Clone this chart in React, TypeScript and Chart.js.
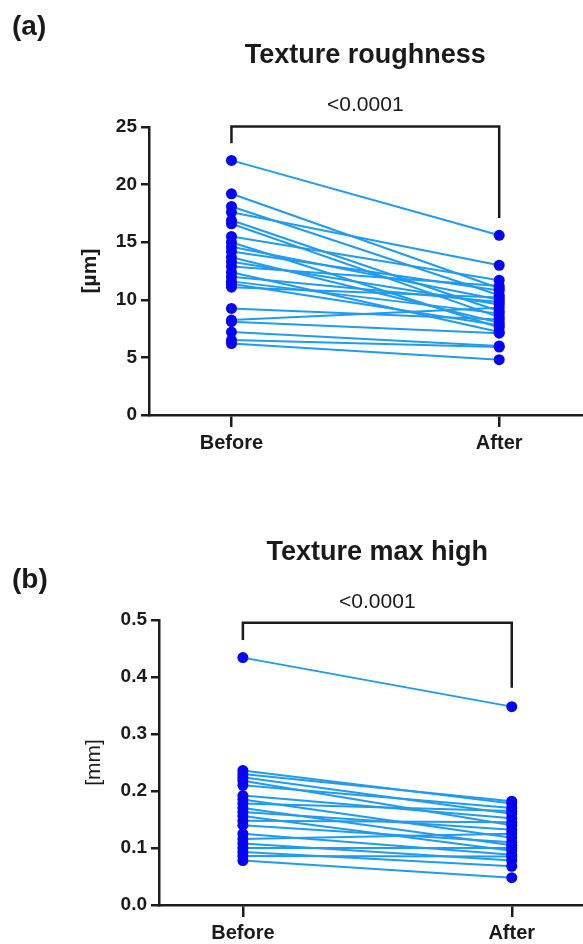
import React, { useEffect, useRef } from 'react';
import { Chart, registerables } from 'chart.js';

Chart.register(...registerables);

// ---------- data ----------
const categories = ['Before', 'After'];

const roughnessBefore = [22.1, 19.2, 18.1, 17.6, 16.9, 16.6, 15.5, 15.0, 14.6, 14.2, 13.7, 13.3, 12.9, 12.4, 12.0, 11.6, 11.1, 11.4, 9.25, 8.24, 8.1, 7.2, 6.5, 6.2];
const roughnessAfter = [15.6, 11.0, 10.4, 13.0, 9.0, 8.5, 11.7, 7.6, 10.0, 10.8, 8.0, 9.6, 11.2, 7.2, 9.8, 8.8, 10.2, 7.8, 8.3, 9.3, 7.1, 6.0, 5.9, 4.8];
const roughnessTicks = [0, 5, 10, 15, 20, 25];

const maxHighBefore = [0.434, 0.236, 0.23, 0.224, 0.218, 0.21, 0.192, 0.185, 0.178, 0.17, 0.163, 0.156, 0.148, 0.14, 0.125, 0.116, 0.108, 0.1, 0.093, 0.086, 0.078];
const maxHighAfter = [0.348, 0.178, 0.182, 0.16, 0.14, 0.17, 0.152, 0.118, 0.165, 0.105, 0.132, 0.095, 0.145, 0.11, 0.088, 0.125, 0.078, 0.1, 0.068, 0.085, 0.048];
const maxHighTicks = [0, 0.1, 0.2, 0.3, 0.4, 0.5];

const pValueA = '<0.0001';
const pValueB = '<0.0001';

// ---------- styles ----------
const FONT = '"Liberation Sans", Arial, sans-serif';
const LINE_COLOR = '#1f9bf0';
const POINT_COLOR = '#0505f2';
const AXIS_COLOR = '#1c1c1c';
const TEXT_COLOR = '#1a1a1a';

const overlayPlugin = {
  id: 'overlay',
  afterDraw(chart: any, _args: any, opts: any) {
    const { ctx } = chart;
    const xs = chart.scales.x;
    const ys = chart.scales.y;
    const x0 = xs.getPixelForValue(0);
    const x1 = xs.getPixelForValue(1);
    const cx = (x0 + x1) / 2;
    ctx.save();
    ctx.fillStyle = TEXT_COLOR;
    ctx.textBaseline = 'middle';
    ctx.textAlign = 'left';
    ctx.font = `bold 28px ${FONT}`;
    ctx.fillText(opts.panel, 12, opts.panelY);
    ctx.textAlign = 'center';
    ctx.font = `bold 27px ${FONT}`;
    ctx.fillText(opts.title, cx, opts.titleY);
    ctx.font = `21px ${FONT}`;
    ctx.fillText(opts.p, cx, opts.pY);
    ctx.strokeStyle = AXIS_COLOR;
    ctx.lineWidth = 2.5;
    const by = ys.getPixelForValue(opts.bracket);
    ctx.beginPath();
    ctx.moveTo(x0, ys.getPixelForValue(opts.leftLeg));
    ctx.lineTo(x0, by);
    ctx.lineTo(x1, by);
    ctx.lineTo(x1, ys.getPixelForValue(opts.rightLeg));
    ctx.stroke();
    ctx.restore();
  },
};

type PanelSpec = {
  before: number[];
  after: number[];
  ticks: number[];
  decimals: number;
  yTitle: string;
  yTitleWeight: string;
  yTitlePad: number;
  yWidth: number;
  xMin: number;
  xMax: number;
  padTop: number;
  xHeight: number;
  width: number;
  height: number;
  overlay: any;
};

function Panel({ spec, top }: { spec: PanelSpec; top: number }) {
  const ref = useRef<HTMLCanvasElement | null>(null);
  useEffect(() => {
    if (!ref.current) return;
    const lineSets = spec.before.map((b, i) => ({
      type: 'line',
      data: [
        { x: 0, y: b },
        { x: 1, y: spec.after[i] },
      ],
      borderColor: LINE_COLOR,
      borderWidth: 2,
      pointRadius: 0,
      showLine: true,
      order: 2,
      clip: false,
    }));
    const pointSet = {
      type: 'scatter',
      data: [
        ...spec.before.map((v) => ({ x: 0, y: v })),
        ...spec.after.map((v) => ({ x: 1, y: v })),
      ],
      backgroundColor: POINT_COLOR,
      borderColor: POINT_COLOR,
      pointRadius: 5.5,
      borderWidth: 0,
      order: 1,
      clip: false,
    };
    const yMin = spec.ticks[0];
    const yMax = spec.ticks[spec.ticks.length - 1];
    const chart = new Chart(ref.current, {
      type: 'scatter',
      data: { datasets: [...lineSets, pointSet] as any },
      options: {
        responsive: false,
        animation: false,
        devicePixelRatio: 1,
        layout: { autoPadding: false, padding: { top: spec.padTop, left: 0, right: 0, bottom: 0 } },
        plugins: {
          legend: { display: false },
          tooltip: { enabled: false },
          overlay: spec.overlay,
        } as any,
        scales: {
          x: {
            type: 'linear',
            min: spec.xMin,
            max: spec.xMax,
            afterBuildTicks: (s: any) => {
              s.ticks = categories.map((_, i) => ({ value: i }));
            },
            afterFit: (s: any) => {
              s.height = spec.xHeight;
              s.paddingLeft = 0;
              s.paddingRight = 0;
            },
            ticks: {
              autoSkip: false,
              maxRotation: 0,
              padding: 4,
              color: TEXT_COLOR,
              font: { family: FONT, size: 20, weight: 'bold' },
              callback: (v: any) => categories[v],
            },
            grid: {
              display: true,
              drawOnChartArea: false,
              drawTicks: true,
              tickLength: 12,
              color: AXIS_COLOR,
              lineWidth: 2.5,
            },
            border: { display: true, color: AXIS_COLOR, width: 2.5 },
          },
          y: {
            type: 'linear',
            min: yMin,
            max: yMax,
            afterBuildTicks: (s: any) => {
              s.ticks = spec.ticks.map((v) => ({ value: v }));
            },
            afterFit: (s: any) => {
              s.width = spec.yWidth;
              s.paddingTop = 0;
              s.paddingBottom = 0;
            },
            ticks: {
              padding: 4,
              color: TEXT_COLOR,
              font: { family: FONT, size: 19, weight: 'bold' },
              callback: (v: any) => Number(v).toFixed(spec.decimals),
            },
            grid: {
              display: true,
              drawOnChartArea: false,
              drawTicks: true,
              tickLength: 8,
              color: AXIS_COLOR,
              lineWidth: 2.5,
            },
            border: { display: true, color: AXIS_COLOR, width: 2.5 },
            title: {
              display: true,
              text: spec.yTitle,
              color: TEXT_COLOR,
              font: { family: FONT, size: 21, weight: spec.yTitleWeight },
              padding: { top: spec.yTitlePad, bottom: 0 },
            },
          },
        },
      } as any,
      plugins: [overlayPlugin as any],
    });
    return () => chart.destroy();
  }, [spec]);
  return (
    <canvas
      ref={ref}
      width={spec.width}
      height={spec.height}
      style={{ position: 'absolute', left: 0, top, width: spec.width, height: spec.height }}
    />
  );
}

const specA: PanelSpec = {
  before: roughnessBefore,
  after: roughnessAfter,
  ticks: roughnessTicks,
  decimals: 0,
  yTitle: '[µm]',
  yTitleWeight: 'bold',
  yTitlePad: 78,
  yWidth: 149,
  xMin: -0.308,
  xMax: 1.313,
  padTop: 127,
  xHeight: 45,
  width: 583,
  height: 460,
  overlay: { panel: '(a)', panelY: 27, title: 'Texture roughness', titleY: 56, p: pValueA, pY: 105, bracket: 25.05, leftLeg: 23.6, rightLeg: 17.1 },
};

const specB: PanelSpec = {
  before: maxHighBefore,
  after: maxHighAfter,
  ticks: maxHighTicks,
  decimals: 1,
  yTitle: '[mm]',
  yTitleWeight: 'normal',
  yTitlePad: 82,
  yWidth: 159,
  xMin: -0.312,
  xMax: 1.265,
  padTop: 160,
  xHeight: 39,
  width: 583,
  height: 484,
  overlay: { panel: '(b)', panelY: 120, title: 'Texture max high', titleY: 93, p: pValueB, pY: 142, bracket: 0.495, leftLeg: 0.465, rightLeg: 0.381 },
};

export default function App() {
  return (
    <div style={{ position: 'absolute', left: 0, top: 0, width: 583, height: 944, background: '#fff', overflow: 'hidden' }}>
      <Panel spec={specA} top={0} />
      <Panel spec={specB} top={460} />
    </div>
  );
}
